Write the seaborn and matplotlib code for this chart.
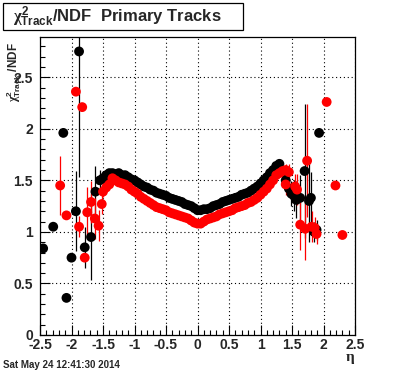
import numpy as np
import pandas as pd
import matplotlib
matplotlib.use("Agg")
import matplotlib.pyplot as plt
import seaborn as sns
from matplotlib.patches import Rectangle
from matplotlib.ticker import MultipleLocator, FixedLocator, FixedFormatter

# chi2/NDF of primary tracks vs eta, two samples (black, red)
black_eta = [-2.45, -2.29, -2.13, -2.08, -2.00, -1.93, -1.88, -1.79, -1.69, -1.62, -1.55,
             -1.50, -1.45, -1.40, -1.35, -1.30, -1.25, -1.20, -1.15, -1.10, -1.05,
             -1.00, -0.95, -0.90, -0.85, -0.80, -0.75, -0.70, -0.65, -0.60, -0.55,
             -0.50, -0.45, -0.40, -0.35, -0.30, -0.25, -0.20, -0.15, -0.10, -0.05,
             0.00, 0.05, 0.10, 0.15, 0.20, 0.25, 0.30, 0.35, 0.40, 0.45,
             0.50, 0.55, 0.60, 0.65, 0.70, 0.75, 0.80, 0.85, 0.90, 0.95,
             1.00, 1.05, 1.10, 1.15, 1.20, 1.25, 1.30, 1.35, 1.40, 1.45,
             1.49, 1.53, 1.57, 1.63, 1.70, 1.77, 1.80, 1.85, 1.89, 1.93]
black_val = [0.84, 1.05, 1.96, 0.36, 0.75, 1.20, 2.75, 0.85, 0.95, 1.39, 1.50,
             1.52, 1.55, 1.57, 1.57, 1.56, 1.57, 1.55, 1.55, 1.53, 1.51,
             1.50, 1.48, 1.46, 1.44, 1.43, 1.41, 1.40, 1.38, 1.37, 1.36,
             1.35, 1.33, 1.32, 1.31, 1.30, 1.29, 1.27, 1.26, 1.25, 1.23,
             1.21, 1.21, 1.22, 1.22, 1.23, 1.25, 1.26, 1.27, 1.29, 1.30,
             1.31, 1.32, 1.33, 1.34, 1.36, 1.37, 1.38, 1.40, 1.42, 1.44,
             1.47, 1.50, 1.53, 1.57, 1.60, 1.64, 1.66, 1.58, 1.50, 1.42,
             1.37, 1.35, 1.31, 1.33, 1.59, 1.30, 1.33, 1.00, 1.02, 1.96]
black_err = [0.02, 0.02, 0.02, 0.02, 0.03, 0.39, 1.22, 0.20, 0.42, 0.25, 0.10,
             0.05, 0.04, 0.03, 0.03, 0.03, 0.02, 0.02, 0.02, 0.02, 0.02,
             0.02, 0.02, 0.02, 0.02, 0.02, 0.02, 0.02, 0.02, 0.02, 0.02,
             0.02, 0.02, 0.02, 0.02, 0.02, 0.02, 0.02, 0.02, 0.02, 0.02,
             0.02, 0.02, 0.02, 0.02, 0.02, 0.02, 0.02, 0.02, 0.02, 0.02,
             0.02, 0.02, 0.02, 0.02, 0.02, 0.02, 0.02, 0.02, 0.02, 0.02,
             0.02, 0.02, 0.02, 0.02, 0.03, 0.03, 0.04, 0.05, 0.06, 0.08,
             0.12, 0.15, 0.18, 0.22, 0.65, 0.40, 0.25, 0.10, 0.10, 0.03]

red_eta = [-2.18, -2.08, -1.93, -1.88, -1.83, -1.79, -1.75, -1.69, -1.63, -1.57, -1.52,
           -1.50, -1.45, -1.40, -1.35, -1.30, -1.25, -1.20, -1.15, -1.10, -1.05,
           -1.00, -0.95, -0.90, -0.85, -0.80, -0.75, -0.70, -0.65, -0.60, -0.55,
           -0.50, -0.45, -0.40, -0.35, -0.30, -0.25, -0.20, -0.15, -0.10, -0.05,
           0.00, 0.05, 0.10, 0.15, 0.20, 0.25, 0.30, 0.35, 0.40, 0.45,
           0.50, 0.55, 0.60, 0.65, 0.70, 0.75, 0.80, 0.85, 0.90, 0.95,
           1.00, 1.05, 1.10, 1.15, 1.20, 1.25, 1.30, 1.35, 1.40, 1.45,
           1.40, 1.55, 1.58, 1.63, 1.71, 1.74, 1.81, 1.86, 1.89, 2.05, 2.19, 2.30]
red_val = [1.45, 1.16, 2.36, 1.05, 2.21, 0.75, 1.19, 1.29, 1.13, 1.06, 1.27,
           1.39, 1.43, 1.46, 1.52, 1.50, 1.48, 1.47, 1.46, 1.44, 1.41,
           1.39, 1.37, 1.34, 1.32, 1.30, 1.28, 1.26, 1.24, 1.23, 1.22,
           1.21, 1.19, 1.18, 1.17, 1.16, 1.15, 1.14, 1.13, 1.11, 1.09,
           1.08, 1.08, 1.10, 1.12, 1.13, 1.14, 1.15, 1.17, 1.18, 1.19,
           1.20, 1.21, 1.23, 1.24, 1.25, 1.26, 1.28, 1.29, 1.31, 1.33,
           1.36, 1.39, 1.42, 1.46, 1.50, 1.55, 1.57, 1.59, 1.60, 1.58,
           1.46, 1.44, 1.41, 1.07, 1.03, 1.69, 1.05, 1.04, 0.98, 2.26, 1.45, 0.97]
red_err = [0.29, 0.03, 0.03, 0.10, 0.03, 0.03, 0.25, 0.20, 0.20, 0.15, 0.10,
           0.05, 0.04, 0.03, 0.03, 0.03, 0.02, 0.02, 0.02, 0.02, 0.02,
           0.02, 0.02, 0.02, 0.02, 0.02, 0.02, 0.02, 0.02, 0.02, 0.02,
           0.02, 0.02, 0.02, 0.02, 0.02, 0.02, 0.02, 0.02, 0.02, 0.02,
           0.02, 0.02, 0.02, 0.02, 0.02, 0.02, 0.02, 0.02, 0.02, 0.02,
           0.02, 0.02, 0.02, 0.02, 0.02, 0.02, 0.02, 0.02, 0.02, 0.02,
           0.02, 0.02, 0.02, 0.02, 0.03, 0.03, 0.04, 0.05, 0.06, 0.08,
           0.10, 0.12, 0.15, 0.25, 0.30, 0.55, 0.15, 0.10, 0.10, 0.03, 0.03, 0.03]

xticks = [-2.5, -2, -1.5, -1, -0.5, 0, 0.5, 1, 1.5, 2, 2.5]
yticks = [0, 0.5, 1, 1.5, 2, 2.5]

sns.set_style("ticks")
plt.rcParams["font.family"] = ["Liberation Sans", "DejaVu Sans"]
plt.rcParams["font.weight"] = "bold"
plt.rcParams["axes.unicode_minus"] = False
plt.rcParams["mathtext.fontset"] = "custom"
plt.rcParams["mathtext.rm"] = "Liberation Sans:bold"
plt.rcParams["mathtext.it"] = "Liberation Serif"
plt.rcParams["mathtext.bf"] = "Liberation Sans:bold"

df = pd.concat([
    pd.DataFrame({"eta": black_eta, "chi2": black_val, "err": black_err, "set": "black"}),
    pd.DataFrame({"eta": red_eta, "chi2": red_val, "err": red_err, "set": "red"}),
], ignore_index=True)

fig = plt.figure(figsize=(3.96, 3.72), dpi=100)
ax = fig.add_axes([40 / 396, 1 - 335 / 372, 315 / 396, 298 / 372])

for name, col in [("black", "#000000"), ("red", "#ff0000")]:
    d = df[df["set"] == name]
    ax.errorbar(d["eta"], d["chi2"], yerr=d["err"], fmt="none", ecolor=col, elinewidth=0.9, zorder=2)
sns.scatterplot(data=df, x="eta", y="chi2", hue="set", palette={"black": "#000000", "red": "#ff0000"},
                s=50, linewidth=0, legend=False, ax=ax, zorder=3)

ax.set_xlim(-2.5, 2.5)
ax.set_ylim(0, 2.89)
ax.xaxis.set_major_locator(FixedLocator(xticks))
ax.xaxis.set_major_formatter(FixedFormatter(["%g" % v for v in xticks]))
ax.yaxis.set_major_locator(FixedLocator(yticks))
ax.yaxis.set_major_formatter(FixedFormatter(["%g" % v for v in yticks]))
ax.xaxis.set_minor_locator(MultipleLocator(0.1))
ax.yaxis.set_minor_locator(MultipleLocator(0.1))
ax.tick_params(which="both", direction="in", top=False, right=False, labelsize=10, width=0.8, color="black")
ax.tick_params(which="major", length=7)
ax.tick_params(which="minor", length=3.5)
ax.tick_params(axis="x", pad=2)
ax.tick_params(axis="y", pad=5)
for lab in ax.get_xticklabels() + ax.get_yticklabels():
    lab.set_fontweight("bold")
ax.grid(True, which="major", color="black", linestyle=(0, (1, 2.5)), linewidth=0.8)
for sp in ax.spines.values():
    sp.set_color("black")
    sp.set_linewidth(0.9)
ax.set_xlabel("")
ax.set_ylabel("")

fig.text(14 / 396, 1 - 42 / 372, r"$\chi^{2}_{\mathrm{Track}}$ /NDF", rotation=90, ha="center", va="top",
         fontsize=8.5, fontweight="bold")
fig.text(350 / 396, 1 - 358 / 372, "η", ha="center", va="center", fontsize=11, family="Liberation Serif")
fig.text(3 / 396, 1 - 365 / 372, "Sat May 24 12:41:30 2014", ha="left", va="center", fontsize=7, fontweight="bold")

fig.patches.append(Rectangle((3 / 396, 1 - 30 / 372), 240 / 396, 27 / 372, transform=fig.transFigure,
                             facecolor="white", edgecolor="black", linewidth=0.9))
fig.text(13 / 396, 1 - 22 / 372, r"$\chi^{2}_{\mathrm{Track}}$/NDF  Primary Tracks", ha="left", va="baseline",
         fontsize=12, fontweight="bold")

fig.savefig("out.png", dpi=100)
